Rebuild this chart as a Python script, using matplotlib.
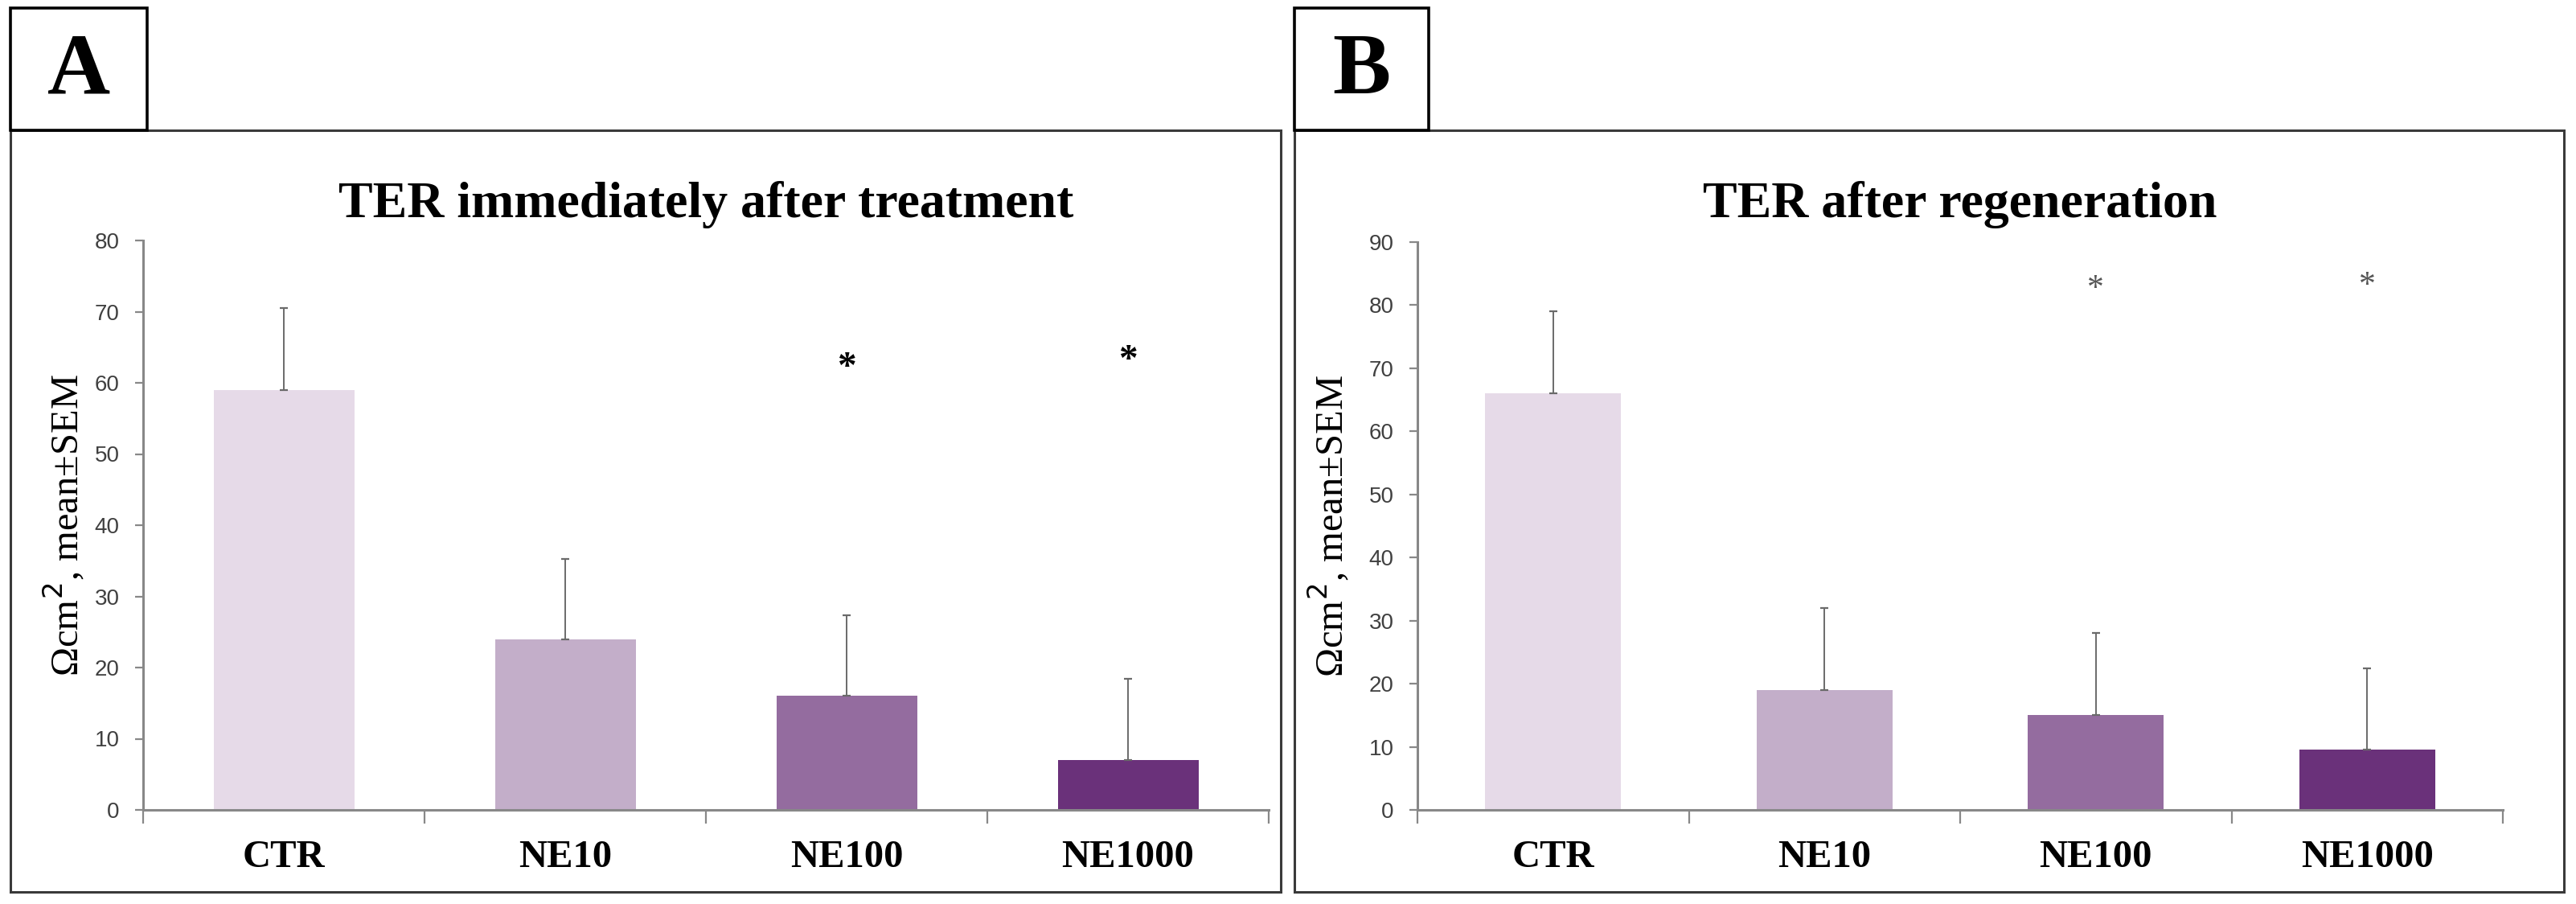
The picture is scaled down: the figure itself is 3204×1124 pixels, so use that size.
import numpy as np
import matplotlib.pyplot as plt
from matplotlib.patches import Rectangle

# data
groups = ["CTR", "NE10", "NE100", "NE1000"]
colors = ["#E6DAE8", "#C3AEC9", "#946C9F", "#6A317A"]

ter_a = [59, 24, 16, 7]
sem_a = [11.5, 11.3, 11.3, 11.4]
star_a = {2: 62, 3: 63}

ter_b = [66, 19, 15, 9.5]
sem_b = [13, 13, 13, 13]
star_b = {2: 82.5, 3: 83}

W, H = 3204, 1124
fig = plt.figure(figsize=(W / 100, H / 100), dpi=100)

serif = ["Liberation Serif", "DejaVu Serif"]
sans = ["Liberation Sans", "DejaVu Sans"]


def px_rect(x0, y0, x1, y1, lw=2.5, color="black"):
    # rectangle given in pixel coords (origin top-left)
    r = Rectangle((x0 / W, 1 - y1 / H), (x1 - x0) / W, (y1 - y0) / H,
                  transform=fig.transFigure, fill=False, lw=lw, edgecolor=color)
    fig.add_artist(r)


def panel(axpx, vals, errs, stars, ymax, title, letter, letter_box, frame, star_style, ylab_x):
    x0, y0, x1, y1 = axpx
    ax = fig.add_axes([x0 / W, 1 - y1 / H, (x1 - x0) / W, (y1 - y0) / H])
    x = np.arange(len(groups))
    ax.bar(x, vals, width=0.5, color=colors, zorder=2)
    ax.errorbar(x, vals, yerr=[np.zeros(len(vals)), errs], fmt="none",
                ecolor="#6a6a6a", elinewidth=1.4, capsize=3.5, capthick=1.6, zorder=3)
    for k, v in stars.items():
        ax.text(k, v, "*", ha="center", va="center", **star_style)
    ax.set_xlim(-0.5, 3.5)
    ax.set_ylim(0, ymax)
    ax.set_yticks(np.arange(0, ymax + 1, 10))
    ax.set_xticks(np.arange(-0.5, 4.0, 1.0))
    ax.set_xticklabels([])
    ax.set_xticks(x, minor=True)
    ax.set_xticklabels(groups, minor=True, fontsize=35, fontweight="bold", family=serif)
    ax.tick_params(axis="x", which="major", length=12, width=1.6, color="#888888", direction="out")
    ax.tick_params(axis="x", which="minor", length=0, pad=27)
    ax.tick_params(axis="y", length=7, width=1.6, color="#888888", labelsize=20,
                   labelcolor="#404040", pad=14)
    for lab in ax.get_yticklabels():
        lab.set_family(sans)
    for s in ["top", "right"]:
        ax.spines[s].set_visible(False)
    for s in ["left", "bottom"]:
        ax.spines[s].set_color("#888888")
        ax.spines[s].set_linewidth(2.2)
    ax.set_ylabel("Ωcm$^2$, mean±SEM", family=serif, fontsize=35, va="center")
    ax.yaxis.set_label_coords((ylab_x - x0) / (x1 - x0), 0.5)

    fx0, fy0, fx1, fy1 = frame
    px_rect(fx0, fy0, fx1, fy1, lw=2.2, color="#3a3a3a")
    lx0, ly0, lx1, ly1 = letter_box
    px_rect(lx0, ly0, lx1, ly1, lw=2.6)
    fig.text((lx0 + lx1) / 2 / W, 1 - 90 / H, letter, ha="center", va="center",
             fontsize=78, fontweight="bold", family=serif)
    fig.text((x0 + x1) / 2 / W, 1 - 254 / H, title, ha="center", va="center", fontsize=46,
             fontweight="bold", family=serif)
    return ax


star_a_style = dict(fontsize=34, fontweight="bold", color="black", family=serif)
star_b_style = dict(fontsize=30, color="#555555", family=serif)

panel((178, 299, 1578, 1007), ter_a, sem_a, star_a, 80,
      "TER immediately after treatment", "A", (13, 10, 183, 162), (13, 162, 1593, 1109),
      star_a_style, 80)
panel((1763, 301, 3113, 1007), ter_b, sem_b, star_b, 90,
      "TER after regeneration", "B", (1610, 10, 1777, 162), (1610, 162, 3189, 1109),
      star_b_style, 1653)

fig.savefig("out.png", dpi=100)
